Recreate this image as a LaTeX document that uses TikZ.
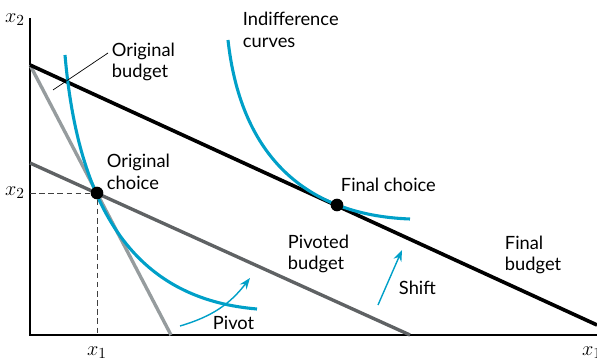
\documentclass[tikz,border=0pt]{standalone}
\usepackage{fontspec}
\setmainfont{Lato}
\usetikzlibrary{arrows.meta}

\definecolor{icblue}{RGB}{0,160,200}
\definecolor{pivgray}{RGB}{95,98,100}
\definecolor{origgray}{RGB}{150,156,158}

\begin{document}
\begin{tikzpicture}[x=0.025cm, y=0.025cm,
  every node/.style={font=\fontsize{13}{15.5}\selectfont, align=left},
  lbl/.style={anchor=west},
  axlbl/.style={font=\fontsize{15}{17}\selectfont},
  choice/.style={circle, fill=black, inner sep=0pt, minimum size=9pt},
  icurve/.style={icblue, line width=2.2pt},
  movearrow/.style={icblue, line width=1pt, -{Stealth[length=8pt,width=6pt]}}]
\useasboundingbox (0,0) rectangle (597,360);

% axes
\coordinate (O) at (30,25);
\coordinate (ytop) at (30,342);
\coordinate (xend) at (597,25);
\draw[line width=1.6pt] (ytop) -- (O) -- (xend);
\node[axlbl] (x2top) at (15,340) {$x_2$};
\node[axlbl] (x1end) at (592,7) {$x_1$};

% budget lines
\coordinate (origtop) at (30,295);
\coordinate (origbot) at (171,25);
\coordinate (pivtop) at (30,197);
\coordinate (pivbot) at (410,25);
\coordinate (finbot) at (597,35);
\draw[origgray, line width=2.4pt] (origtop) -- (origbot);
\draw[pivgray, line width=2.4pt] (pivtop) -- (pivbot);
\draw[line width=2.6pt] (origtop) -- (finbot);

% indifference curves
\draw[icurve] (65,305) .. controls (80,130) and (150,60) .. (257,51);
\draw[icurve] (228,320) .. controls (240,210) and (300,145) .. (410,141);

% choices
\node[choice] (origchoice) at (97,167) {};
\node[choice] (finchoice) at (337,155) {};
\coordinate (x2mark) at (30,167);
\coordinate (x1mark) at (97,25);
\draw[dash pattern=on 4pt off 2.5pt, line width=0.6pt, black!75] (x2mark) -- (origchoice) -- (x1mark);
\node[axlbl] (x2left) at (15,167) {$x_2$};
\node[axlbl] (x1low) at (97,7) {$x_1$};

% arrows
\coordinate (pivfrom) at (180,34);
\coordinate (pivto) at (250,82);
\draw[movearrow] (pivfrom) to[bend right=18] (pivto);
\coordinate (shiftfrom) at (378,55);
\coordinate (shiftto) at (402,110);
\draw[movearrow] (shiftfrom) -- (shiftto);

% labels
\node[lbl] (origbudget) at (107,298) {Original\\budget};
\coordinate (leaderend) at (53,270);
\draw[line width=0.5pt] (108,307) -- (leaderend);
\node[lbl] (indiff) at (238,330) {Indifference\\curves};
\node[lbl] (origchoicelbl) at (102,188) {Original\\choice};
\node[lbl] (finchoicelbl) at (336,175) {Final choice};
\node[lbl] (pivbudget) at (283,106) {Pivoted\\budget};
\node[lbl] (finbudget) at (500,105) {Final\\budget};
\node[lbl] (shiftlbl) at (394,72) {Shift};
\node[lbl] (pivotlbl) at (208,37) {Pivot};
\end{tikzpicture}
\end{document}
